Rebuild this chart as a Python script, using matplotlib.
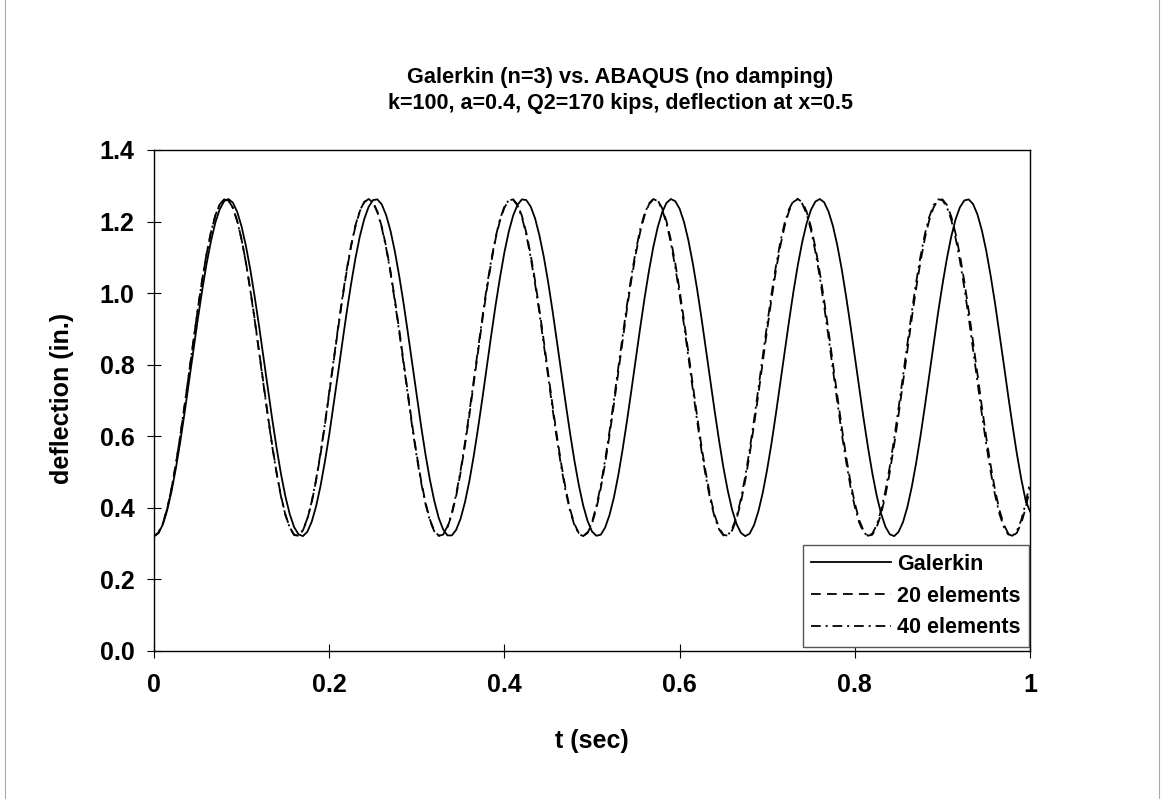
# Galerkin (n=3) vs ABAQUS midspan deflection, no damping
import numpy as np
import matplotlib
matplotlib.use("Agg")
import matplotlib.pyplot as plt
from matplotlib.lines import Line2D

plt.rcParams['font.family'] = ['Liberation Sans', 'DejaVu Sans']
plt.rcParams['font.weight'] = 'bold'
plt.rcParams['lines.scale_dashes'] = False

# time samples (sec), read every 0.005 s
t_sec = np.round(np.arange(201) * 0.005, 3)

galerkin = [0.321, 0.329, 0.353, 0.393, 0.446, 0.511, 0.585, 0.667, 0.753, 0.841,
            0.927, 1.008, 1.082, 1.145, 1.197, 1.234, 1.257, 1.263, 1.253, 1.227,
            1.186, 1.131, 1.065, 0.989, 0.907, 0.820, 0.733, 0.647, 0.567, 0.494,
            0.432, 0.382, 0.346, 0.326, 0.321, 0.333, 0.361, 0.404, 0.460, 0.528,
            0.604, 0.688, 0.774, 0.862, 0.947, 1.026, 1.098, 1.159, 1.207, 1.241,
            1.260, 1.262, 1.248, 1.218, 1.174, 1.116, 1.047, 0.970, 0.886, 0.799,
            0.712, 0.627, 0.548, 0.478, 0.419, 0.372, 0.340, 0.323, 0.323, 0.339,
            0.370, 0.416, 0.475, 0.545, 0.624, 0.708, 0.796, 0.883, 0.967, 1.044,
            1.114, 1.172, 1.217, 1.247, 1.262, 1.260, 1.242, 1.209, 1.161, 1.101,
            1.030, 0.950, 0.865, 0.778, 0.691, 0.608, 0.531, 0.463, 0.406, 0.363,
            0.334, 0.322, 0.325, 0.345, 0.380, 0.429, 0.491, 0.564, 0.644, 0.729,
            0.817, 0.903, 0.986, 1.062, 1.129, 1.184, 1.225, 1.252, 1.263, 1.257,
            1.236, 1.199, 1.148, 1.084, 1.011, 0.930, 0.844, 0.757, 0.671, 0.589,
            0.513, 0.448, 0.394, 0.355, 0.330, 0.321, 0.328, 0.352, 0.391, 0.443,
            0.508, 0.582, 0.664, 0.750, 0.838, 0.923, 1.005, 1.079, 1.143, 1.195,
            1.233, 1.256, 1.263, 1.254, 1.228, 1.188, 1.134, 1.068, 0.992, 0.910,
            0.824, 0.736, 0.650, 0.570, 0.497, 0.434, 0.384, 0.347, 0.326, 0.321,
            0.333, 0.360, 0.402, 0.458, 0.525, 0.601, 0.684, 0.771, 0.858, 0.944,
            1.023, 1.095, 1.157, 1.206, 1.240, 1.259, 1.262, 1.249, 1.220, 1.176,
            1.119, 1.050, 0.973, 0.889, 0.803, 0.715, 0.631, 0.551, 0.481, 0.421,
            0.390]

elem20 = [0.321, 0.330, 0.355, 0.397, 0.454, 0.523, 0.601, 0.687, 0.777, 0.867,
          0.955, 1.036, 1.109, 1.170, 1.216, 1.248, 1.262, 1.259, 1.239, 1.202,
          1.150, 1.085, 1.009, 0.926, 0.837, 0.746, 0.658, 0.574, 0.498, 0.433,
          0.381, 0.345, 0.325, 0.322, 0.337, 0.368, 0.415, 0.476, 0.548, 0.630,
          0.718, 0.808, 0.898, 0.983, 1.062, 1.131, 1.187, 1.229, 1.254, 1.263,
          1.254, 1.228, 1.186, 1.130, 1.061, 0.982, 0.896, 0.806, 0.716, 0.628,
          0.547, 0.475, 0.414, 0.367, 0.336, 0.322, 0.325, 0.345, 0.382, 0.434,
          0.499, 0.575, 0.659, 0.748, 0.839, 0.927, 1.011, 1.087, 1.152, 1.203,
          1.239, 1.259, 1.262, 1.247, 1.216, 1.169, 1.107, 1.035, 0.953, 0.866,
          0.775, 0.686, 0.600, 0.521, 0.452, 0.396, 0.355, 0.329, 0.321, 0.330,
          0.356, 0.398, 0.455, 0.524, 0.603, 0.689, 0.779, 0.869, 0.957, 1.038,
          1.110, 1.171, 1.217, 1.248, 1.262, 1.259, 1.238, 1.201, 1.149, 1.084,
          1.008, 0.924, 0.835, 0.745, 0.656, 0.572, 0.497, 0.432, 0.380, 0.344,
          0.325, 0.322, 0.337, 0.369, 0.416, 0.477, 0.550, 0.632, 0.719, 0.810,
          0.899, 0.985, 1.064, 1.132, 1.188, 1.230, 1.255, 1.263, 1.254, 1.228,
          1.185, 1.128, 1.059, 0.980, 0.894, 0.804, 0.714, 0.627, 0.545, 0.473,
          0.413, 0.366, 0.336, 0.322, 0.325, 0.346, 0.383, 0.435, 0.501, 0.577,
          0.661, 0.750, 0.840, 0.929, 1.013, 1.088, 1.153, 1.204, 1.240, 1.260,
          1.262, 1.247, 1.215, 1.167, 1.106, 1.033, 0.951, 0.864, 0.773, 0.684,
          0.598, 0.520, 0.451, 0.395, 0.354, 0.329, 0.321, 0.330, 0.357, 0.399,
          0.456]

elem40 = [0.321, 0.330, 0.356, 0.397, 0.454, 0.523, 0.602, 0.688, 0.778, 0.868,
          0.956, 1.037, 1.110, 1.170, 1.217, 1.248, 1.262, 1.259, 1.238, 1.201,
          1.149, 1.084, 1.007, 0.923, 0.834, 0.744, 0.655, 0.571, 0.496, 0.431,
          0.380, 0.344, 0.324, 0.322, 0.338, 0.370, 0.417, 0.479, 0.552, 0.634,
          0.722, 0.812, 0.902, 0.988, 1.066, 1.134, 1.190, 1.231, 1.255, 1.263,
          1.253, 1.226, 1.183, 1.126, 1.056, 0.976, 0.890, 0.800, 0.709, 0.622,
          0.541, 0.470, 0.410, 0.364, 0.334, 0.322, 0.326, 0.348, 0.386, 0.439,
          0.505, 0.582, 0.667, 0.756, 0.847, 0.935, 1.019, 1.093, 1.157, 1.207,
          1.242, 1.260, 1.261, 1.245, 1.212, 1.163, 1.100, 1.026, 0.944, 0.856,
          0.765, 0.676, 0.591, 0.513, 0.445, 0.391, 0.351, 0.327, 0.321, 0.332,
          0.360, 0.405, 0.463, 0.534, 0.614, 0.701, 0.791, 0.881, 0.968, 1.048,
          1.119, 1.178, 1.222, 1.251, 1.263, 1.257, 1.234, 1.195, 1.141, 1.073,
          0.996, 0.911, 0.821, 0.731, 0.643, 0.560, 0.486, 0.423, 0.374, 0.340,
          0.323, 0.323, 0.341, 0.375, 0.425, 0.489, 0.563, 0.646, 0.735, 0.825,
          0.914, 0.999, 1.076, 1.143, 1.197, 1.235, 1.258, 1.263, 1.250, 1.221,
          1.176, 1.116, 1.045, 0.964, 0.877, 0.787, 0.697, 0.610, 0.531, 0.460,
          0.403, 0.359, 0.332, 0.321, 0.328, 0.352, 0.393, 0.448, 0.516, 0.594,
          0.679, 0.769, 0.859, 0.947, 1.030, 1.103, 1.165, 1.213, 1.246, 1.262,
          1.260, 1.241, 1.206, 1.155, 1.091, 1.015, 0.932, 0.843, 0.753, 0.663,
          0.579, 0.503, 0.437, 0.384, 0.347, 0.326, 0.322, 0.335, 0.366, 0.412,
          0.472]

x_ticks = [0, 0.2, 0.4, 0.6, 0.8, 1.0]
x_ticklabels = ['0', '0.2', '0.4', '0.6', '0.8', '1']
y_ticks = [0.0, 0.2, 0.4, 0.6, 0.8, 1.0, 1.2, 1.4]
y_ticklabels = ['0.0', '0.2', '0.4', '0.6', '0.8', '1.0', '1.2', '1.4']

W, H = 1164, 799
fig = plt.figure(figsize=(W / 100, H / 100), dpi=100)
ax = fig.add_axes([154 / W, 1 - 651 / H, 876 / W, 501 / H])

ax.plot(t_sec, galerkin, color='black', lw=1.3, ls='-', label='Galerkin')
ax.plot(t_sec, elem20, color='black', lw=1.3, ls=(0, (7, 4.5)), label='20 elements')
ax.plot(t_sec, elem40, color='black', lw=1.3, ls=(0, (7, 3.5, 1.5, 3.5)), label='40 elements')

ax.set_xlim(0, 1)
ax.set_ylim(0, 1.4)
ax.set_xticks(x_ticks)
ax.set_xticklabels(x_ticklabels)
ax.set_yticks(y_ticks)
ax.set_yticklabels(y_ticklabels)
ax.tick_params(axis='both', direction='inout', length=10, width=0.8, labelsize=18)
ax.tick_params(axis='x', pad=11)
ax.tick_params(axis='y', pad=9)
for sp in ax.spines.values():
    sp.set_linewidth(1.0)

leg = ax.legend(loc='lower right', bbox_to_anchor=(1 - 1 / 876, 4 / 501), borderaxespad=0,
                fontsize=15.5, handlelength=3.7, handletextpad=0.28, labelspacing=0.5,
                fancybox=False, framealpha=1, edgecolor='#555555', borderpad=0.4)
leg.get_frame().set_linewidth(1.0)

fig.text(620 / W, 1 - 78 / H, 'Galerkin (n=3) vs. ABAQUS (no damping)',
         ha='center', va='center', fontsize=15.7, fontweight='bold')
fig.text(620 / W, 1 - 104 / H, 'k=100, a=0.4, Q2=170 kips, deflection at x=0.5',
         ha='center', va='center', fontsize=15.5, fontweight='bold')
fig.text(592 / W, 1 - 741 / H, 't (sec)', ha='center', va='center',
         fontsize=18, fontweight='bold')
fig.text(62 / W, 1 - 398 / H, 'deflection (in.)', ha='center', va='center',
         rotation=90, fontsize=18, fontweight='bold')

# faint outer chart border from the scan
for xb in (5 / W, 1159 / W):
    fig.add_artist(Line2D([xb, xb], [0, 1], transform=fig.transFigure,
                          color='#aaaaaa', lw=0.8))

fig.savefig('out.png', dpi=100)
